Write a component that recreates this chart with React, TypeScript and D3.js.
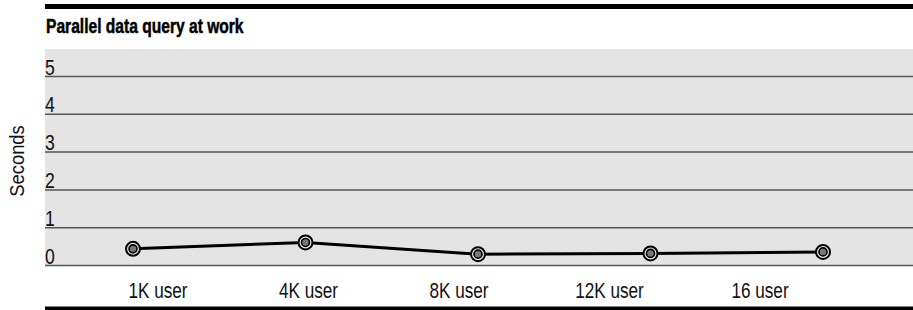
import React, { useEffect, useRef } from 'react'
import * as d3 from 'd3'

const categories = ['1K user', '4K user', '8K user', '12K user', '16 user']
const seconds = [0.44, 0.61, 0.3, 0.32, 0.36]
const yTicks = [0, 1, 2, 3, 4, 5]
const title = 'Parallel data query at work'
const yTitle = 'Seconds'

export default function App() {
  const svgRef = useRef<SVGSVGElement | null>(null)

  useEffect(() => {
    if (!svgRef.current) return
    const width = 913
    const height = 310
    const left = 45
    const font = '"Liberation Sans", Arial, sans-serif'

    const svg = d3.select(svgRef.current)
    svg.selectAll('*').remove()
    svg.attr('width', width).attr('height', height)

    // scales
    const y = d3.scaleLinear().domain([0, 5]).range([265.5, 76.5])
    const x = d3.scalePoint<string>().domain(categories).range([133, 823])
    const xLabel = d3.scalePoint<string>().domain(categories).range([158, 760])

    // heavy rules top and bottom
    svg.append('rect').attr('x', left).attr('y', 4).attr('width', width - left).attr('height', 5).attr('fill', '#000')
    svg.append('rect').attr('x', left).attr('y', 306.5).attr('width', width - left).attr('height', 4).attr('fill', '#000')

    // condensed look: squeeze text horizontally
    svg.append('text')
      .attr('transform', `translate(${left + 1}, 33) scale(0.78, 1)`)
      .style('font-family', font).style('font-weight', 'bold').style('font-size', '20px')
      .attr('stroke', '#000').attr('stroke-width', 0.5)
      .text(title)

    // plot background
    svg.append('rect')
      .attr('x', left).attr('y', 49)
      .attr('width', width - left).attr('height', y(0) - 49)
      .attr('fill', '#e4e4e4')

    // gridlines + tick labels
    const g = svg.append('g')
    g.selectAll('line').data(yTicks).enter().append('line')
      .attr('x1', left).attr('x2', width)
      .attr('y1', d => y(d)).attr('y2', d => y(d))
      .attr('stroke', '#555').attr('stroke-width', 1.5)
    g.selectAll('text').data(yTicks).enter().append('text')
      .attr('transform', d => `translate(${left}, ${y(d) - 2}) scale(0.8, 1)`)
      .style('font-family', font).style('font-size', '22px').attr('fill', '#111')
      .text(d => d)

    svg.append('text')
      .attr('transform', `translate(24, 161) rotate(-90) scale(0.92, 1)`)
      .attr('text-anchor', 'middle')
      .style('font-family', font).style('font-size', '20px').attr('fill', '#111')
      .text(yTitle)

    // x labels
    svg.append('g').selectAll('text').data(categories).enter().append('text')
      .attr('transform', d => `translate(${xLabel(d)}, 298) scale(0.78, 1)`)
      .attr('text-anchor', 'middle')
      .style('font-family', font).style('font-size', '22px').attr('fill', '#111')
      .text(d => d)

    // line
    const pts = categories.map((c, i) => ({ c, v: seconds[i] }))
    const line = d3.line<{ c: string; v: number }>().x(d => x(d.c) as number).y(d => y(d.v))
    svg.append('path').datum(pts)
      .attr('d', line).attr('fill', 'none').attr('stroke', '#000').attr('stroke-width', 3)

    // markers
    const m = svg.append('g').selectAll('g').data(pts).enter().append('g')
      .attr('transform', d => `translate(${x(d.c)}, ${y(d.v)})`)
    m.append('circle').attr('r', 7).attr('fill', '#e8e8e8').attr('stroke', '#000').attr('stroke-width', 2)
    m.append('circle').attr('r', 4).attr('fill', '#777').attr('stroke', '#000').attr('stroke-width', 1.6)
  }, [])

  return <svg ref={svgRef} style={{ position: 'absolute', left: 0, top: 0 }}></svg>
}
